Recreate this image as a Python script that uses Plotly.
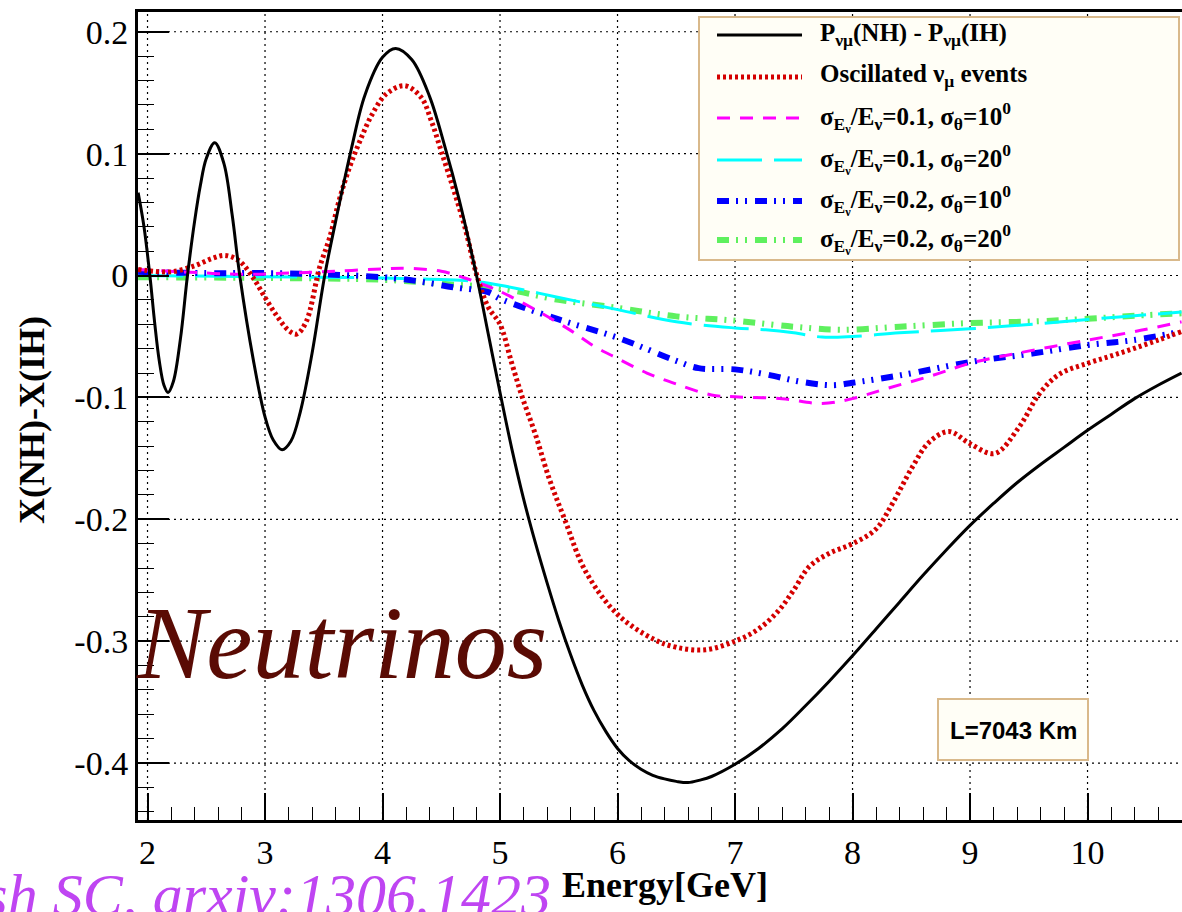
import plotly.graph_objects as go

# ---------------- data ----------------
# P(NH) - P(IH)
e_prob = [1.92, 1.97, 2.02, 2.06, 2.1, 2.14, 2.175, 2.22, 2.28, 2.34, 2.4, 2.45, 2.5, 2.572,
          2.65, 2.72, 2.785, 2.9, 3.0, 3.07, 3.145, 3.22, 3.3, 3.4, 3.508, 3.6, 3.735, 3.85,
          4.0, 4.112, 4.25, 4.4, 4.53, 4.65, 4.8, 4.9, 5.0, 5.1, 5.2, 5.3, 5.4, 5.5, 5.6,
          5.7, 5.8, 5.9, 6.0, 6.1, 6.2, 6.3, 6.4, 6.5, 6.6, 6.7, 6.8, 7.0, 7.2, 7.4, 7.6,
          7.8, 8.0, 8.2, 8.4, 8.6, 8.8, 9.0, 9.2, 9.4, 9.6, 9.8, 10.0, 10.2, 10.4, 10.6,
          10.8]
d_prob = [0.068, 0.04, 0.0, -0.038, -0.07, -0.09, -0.096, -0.087, -0.052, 0.0, 0.044, 0.074,
          0.096, 0.109, 0.092, 0.05, 0.0, -0.069, -0.116, -0.135, -0.143, -0.136, -0.112,
          -0.064, 0.0, 0.044, 0.104, 0.148, 0.179, 0.1863, 0.177, 0.147, 0.106, 0.063, 0.0,
          -0.048, -0.096, -0.142, -0.183, -0.219, -0.252, -0.283, -0.311, -0.336, -0.357,
          -0.374, -0.388, -0.398, -0.405, -0.41, -0.413, -0.415, -0.416, -0.414, -0.411,
          -0.401, -0.388, -0.372, -0.353, -0.333, -0.312, -0.29, -0.268, -0.246, -0.225,
          -0.205, -0.187, -0.17, -0.155, -0.141, -0.127, -0.114, -0.101, -0.09, -0.08]

# oscillated nu_mu events
e_events = [1.92, 2.0, 2.2, 2.4, 2.55, 2.66, 2.78, 2.9, 3.0, 3.1, 3.2, 3.27, 3.35, 3.465,
            3.55, 3.635, 3.72, 3.806, 3.905, 4.033, 4.189, 4.33, 4.415, 4.5, 4.6, 4.7,
            4.8, 4.9, 5.0, 5.1, 5.19, 5.3, 5.42, 5.55, 5.73, 6.0, 6.3, 6.5, 6.75, 7.0,
            7.2, 7.37, 7.5, 7.63, 7.8, 8.0, 8.2, 8.34, 8.51, 8.65, 8.82, 9.0, 9.21, 9.42,
            9.59, 9.76, 10.0, 10.2, 10.39, 10.6, 10.8]
d_events = [0.005, 0.004, 0.003, 0.008, 0.014, 0.0165, 0.012, -0.002, -0.018, -0.033,
            -0.045, -0.048, -0.038, 0.0068, 0.031, 0.063, 0.089, 0.11, 0.131, 0.149,
            0.1557, 0.146, 0.127, 0.102, 0.072, 0.04, 0.001, -0.026, -0.04, -0.072, -0.1,
            -0.13, -0.167, -0.2, -0.243, -0.278, -0.298, -0.305, -0.307, -0.3, -0.29,
            -0.275, -0.258, -0.239, -0.228, -0.22, -0.208, -0.187, -0.157, -0.137, -0.128,
            -0.138, -0.146, -0.124, -0.097, -0.081, -0.072, -0.066, -0.06, -0.053, -0.046]

# smeared: sigma_E/E = 0.1, sigma_theta = 10 deg
e_s1 = [1.92, 2.3, 2.8, 3.2, 3.6, 4.0, 4.2, 4.5, 4.7, 4.9, 5.0, 5.3, 5.6, 5.8, 6.0, 6.25,
        6.5, 6.8, 7.0, 7.4, 7.74, 8.0, 8.28, 8.68, 9.0, 9.39, 10.0, 10.4, 10.8]
d_s1 = [0.005, 0.003, 0.001, 0.002, 0.0035, 0.0055, 0.006, 0.0035, -0.002, -0.009, -0.013,
        -0.028, -0.045, -0.058, -0.068, -0.08, -0.089, -0.098, -0.0995, -0.101, -0.105,
        -0.101, -0.093, -0.082, -0.072, -0.064, -0.053, -0.046, -0.038]

# smeared: sigma_E/E = 0.1, sigma_theta = 20 deg
e_s2 = [1.92, 3.0, 4.0, 4.4, 4.7, 5.0, 5.5, 6.0, 6.5, 7.0, 7.26, 7.5, 7.74, 8.0, 8.4, 9.0,
        9.53, 10.0, 10.4, 10.8]
d_s2 = [0.0, -0.001, -0.002, -0.003, -0.004, -0.008, -0.018, -0.028, -0.038, -0.043,
        -0.0445, -0.047, -0.0505, -0.05, -0.047, -0.0437, -0.04, -0.036, -0.033, -0.03]

# smeared: sigma_E/E = 0.2, sigma_theta = 10 deg
e_s3 = [1.92, 2.5, 3.0, 3.5, 4.0, 4.3, 4.6, 4.9, 5.0, 5.5, 6.0, 6.5, 6.69, 7.0, 7.26, 7.55,
        7.83, 8.0, 8.4, 9.0, 9.53, 10.0, 10.39, 10.8]
d_s3 = [0.003, 0.002, 0.002, 0.001, -0.0014, -0.0046, -0.0096, -0.0137, -0.019, -0.036,
        -0.051, -0.07, -0.076, -0.077, -0.081, -0.087, -0.09, -0.088, -0.082, -0.071,
        -0.064, -0.057, -0.053, -0.046]

# smeared: sigma_E/E = 0.2, sigma_theta = 20 deg
e_s4 = [1.92, 3.0, 4.0, 4.5, 5.0, 5.5, 6.0, 6.5, 7.0, 7.5, 7.9, 8.4, 9.0, 9.53, 10.0, 10.4,
        10.8]
d_s4 = [-0.0014, -0.002, -0.0035, -0.0068, -0.0105, -0.02, -0.0265, -0.0335, -0.037,
        -0.042, -0.0445, -0.042, -0.039, -0.0377, -0.0355, -0.033, -0.031]

legend_labels = [
    "P<sub>νμ</sub>(NH) - P<sub>νμ</sub>(IH)",
    "Oscillated ν<sub>μ</sub> events",
    "σ<sub>E<sub>ν</sub></sub>/E<sub>ν</sub>=0.1, σ<sub>θ</sub>=10<sup>0</sup>",
    "σ<sub>E<sub>ν</sub></sub>/E<sub>ν</sub>=0.1, σ<sub>θ</sub>=20<sup>0</sup>",
    "σ<sub>E<sub>ν</sub></sub>/E<sub>ν</sub>=0.2, σ<sub>θ</sub>=10<sup>0</sup>",
    "σ<sub>E<sub>ν</sub></sub>/E<sub>ν</sub>=0.2, σ<sub>θ</sub>=20<sup>0</sup>",
]
y_ticks = [-0.4, -0.3, -0.2, -0.1, 0.0, 0.1, 0.2]
y_ticktext = ["-0.4", "-0.3", "-0.2", "-0.1", "0", "0.1", "0.2"]
x_ticks = [2, 3, 4, 5, 6, 7, 8, 9, 10]

# ---------------- styles ----------------
W, H = 1182, 912
ML, MR, MT, MB = 138, 0, 12, 92
PW, PH = W - ML - MR, H - MT - MB

def px(x):
    return (x - ML) / PW

def py(y):
    return (H - MB - y) / PH

dashdotdot = "12px,7px,2px,7px,2px,8px"
line_styles = [
    dict(color="#000000", width=3, dash="solid"),
    dict(color="#d40000", width=5, dash="3px,3px"),
    dict(color="#ff00ff", width=3, dash="13px,10px"),
    dict(color="#00ffff", width=3, dash="45px,12px"),
    dict(color="#0000ff", width=6, dash=dashdotdot),
    dict(color="#5ef05e", width=6, dash=dashdotdot),
]
series = [(e_prob, d_prob), (e_events, d_events), (e_s1, d_s1),
          (e_s2, d_s2), (e_s3, d_s3), (e_s4, d_s4)]

fig = go.Figure()
# smeared curves first, then the event curve and the probability curve on top
draw_order = [5, 3, 4, 2, 1, 0]
for i in draw_order:
    xs, ys = series[i]
    fig.add_trace(go.Scatter(
        x=xs, y=ys, mode="lines", name=legend_labels[i], showlegend=False,
        line=dict(shape="spline", smoothing=1.0, **line_styles[i]),
        hoverinfo="skip"))

SERIF = "Liberation Serif"
fig.update_layout(
    width=W, height=H,
    margin=dict(l=ML, r=MR, t=MT, b=MB, pad=0),
    paper_bgcolor="white", plot_bgcolor="white",
    showlegend=False,
    xaxis=dict(
        range=[1.919, 10.804], tickvals=x_ticks, ticks="inside", ticklen=27, tickwidth=1.5,
        tickcolor="black", showline=True, linecolor="black", linewidth=3, mirror=True,
        showgrid=False, zeroline=False,
        tickfont=dict(family=SERIF, size=34, color="black"),
        minor=dict(dtick=0.2, ticks="inside", ticklen=13, tickwidth=1.2, tickcolor="black",
                   showgrid=False),
    ),
    yaxis=dict(
        range=[-0.4467, 0.2162], tickvals=y_ticks, ticktext=y_ticktext, ticks="inside",
        ticklen=31, tickwidth=1.5, tickcolor="black", showline=True, linecolor="black",
        linewidth=3, showgrid=False, zeroline=False,
        tickfont=dict(family=SERIF, size=34, color="black"),
        minor=dict(dtick=0.02, ticks="inside", ticklen=16, tickwidth=1.2, tickcolor="black",
                   showgrid=False),
    ),
)

shapes = []
annotations = []

# dotted grid at the major ticks
grid_line = dict(color="black", width=1.2, dash="2px,4px")
for xv in x_ticks:
    shapes.append(dict(type="line", xref="x", yref="paper", x0=xv, x1=xv, y0=0, y1=1,
                       layer="below", line=grid_line))
for yv in y_ticks:
    shapes.append(dict(type="line", xref="paper", yref="y", x0=0, x1=1, y0=yv, y1=yv,
                       layer="below", line=grid_line))

# legend box
shapes.append(dict(type="rect", xref="paper", yref="paper", layer="above",
                   x0=px(699), x1=px(1179), y0=py(260), y1=py(17),
                   fillcolor="#fffef6", line=dict(color="#d9b98b", width=2)))
legend_rows = [35, 77, 118, 160, 201, 240]
for i, yrow in enumerate(legend_rows):
    st = line_styles[i]
    shapes.append(dict(type="line", xref="paper", yref="paper", layer="above",
                       x0=px(717), x1=px(802), y0=py(yrow), y1=py(yrow),
                       line=dict(color=st["color"], width=st["width"], dash=st["dash"])))
    annotations.append(dict(text=legend_labels[i], xref="paper", yref="paper",
                            x=px(818), y=py(yrow - 1), xanchor="left", yanchor="middle",
                            showarrow=False,
                            font=dict(family=SERIF, size=25, color="black", weight="bold")))

# baseline box
shapes.append(dict(type="rect", xref="paper", yref="paper", layer="above",
                   x0=px(938), x1=px(1088), y0=py(760), y1=py(699),
                   fillcolor="#fffef6", line=dict(color="#d9b98b", width=2)))
annotations.append(dict(text="L=7043 Km", xref="paper", yref="paper", x=px(1013), y=py(730),
                        xanchor="center", yanchor="middle", showarrow=False,
                        font=dict(family="Liberation Sans", size=24, color="black",
                                  weight="bold")))

# axis titles
annotations.append(dict(text="Energy[GeV]", xref="paper", yref="paper", x=px(665), y=py(885),
                        xanchor="center", yanchor="middle", showarrow=False,
                        font=dict(family=SERIF, size=36, color="black", weight="bold")))
annotations.append(dict(text="X(NH)-X(IH)", xref="paper", yref="paper", x=px(32), y=py(420),
                        xanchor="center", yanchor="middle", showarrow=False, textangle=-90,
                        font=dict(family=SERIF, size=36, color="black", weight="bold")))

# overlay captions
annotations.append(dict(text="<i>Neutrinos</i>", xref="paper", yref="paper", x=px(341),
                        y=py(642), xanchor="center", yanchor="middle", showarrow=False,
                        font=dict(family=SERIF, size=104, color="#5a0b04")))
annotations.append(dict(text="<i>Ghosh SC, arxiv:1306.1423</i>", xref="paper", yref="paper",
                        x=px(553), y=py(895), xanchor="right", yanchor="middle",
                        showarrow=False,
                        font=dict(family=SERIF, size=60, color="#bf45f2")))

fig.update_layout(shapes=shapes, annotations=annotations)
fig.write_html("out.html")
